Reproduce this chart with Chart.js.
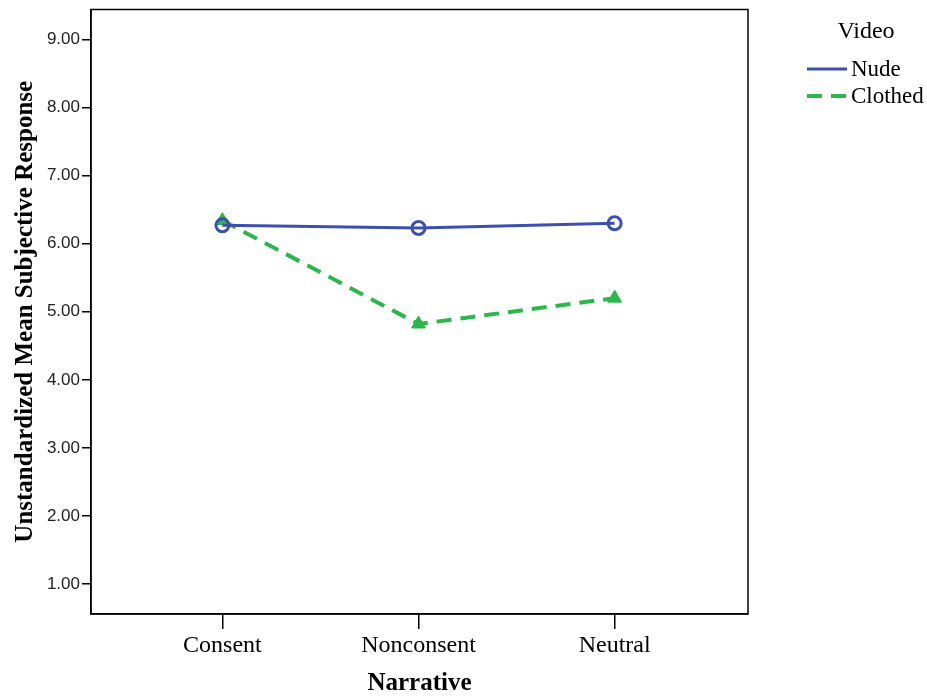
<!DOCTYPE html>
<html>
<head>
<meta charset="utf-8">
<script src="https://cdn.jsdelivr.net/npm/chart.js@4.4.1/dist/chart.umd.min.js"></script>
<style>
    body { margin: 0; background: #fff; }
    canvas { display: block; }
</style>
</head>
<body>
<canvas id="grafico" width="927" height="698"></canvas>
<script>
// Dati
const categorie = ['Consent', 'Nonconsent', 'Neutral'];
const valoriNude = [6.27, 6.23, 6.30];
const valoriClothed = [6.34, 4.82, 5.20];
const tickY = [1, 2, 3, 4, 5, 6, 7, 8, 9];

const blu = '#3d50ad';
const verde = '#2cb64b';
const serif = "'Liberation Serif', 'Times New Roman', serif";
const sans = "'Liberation Sans', Arial, sans-serif";

// Cornice completa attorno all'area del grafico
const cornice = {
    id: 'cornice',
    afterDraw(chart) {
        const { ctx, chartArea } = chart;
        ctx.save();
        ctx.strokeStyle = '#000';
        ctx.lineWidth = 1.5;
        ctx.strokeRect(chartArea.left, chartArea.top, chartArea.right - chartArea.left, chartArea.bottom - chartArea.top);
        ctx.restore();
    }
};

// Legenda disegnata a destra, stile SPSS
const legenda = {
    id: 'legenda',
    afterDraw(chart) {
        const ctx = chart.ctx;
        ctx.save();
        ctx.fillStyle = '#000';
        ctx.textBaseline = 'middle';
        ctx.font = '24px ' + serif;
        ctx.textAlign = 'center';
        ctx.fillText('Video', 866, 32);
        ctx.textAlign = 'left';
        ctx.font = '23px ' + serif;
        chart.data.datasets.forEach((ds, i) => {
            const y = 69 + i * 27;
            ctx.beginPath();
            ctx.strokeStyle = ds.borderColor;
            ctx.lineWidth = ds.borderWidth;
            ctx.setLineDash(ds.borderDash || []);
            ctx.moveTo(807, y);
            ctx.lineTo(847, y);
            ctx.stroke();
            ctx.setLineDash([]);
            ctx.fillText(ds.label, 851, y + 1);
        });
        ctx.restore();
    }
};

const ctx = document.getElementById('grafico').getContext('2d');
new Chart(ctx, {
    type: 'line',
    data: {
        datasets: [{
            label: 'Nude',
            data: valoriNude.map((v, i) => ({ x: i, y: v })),
            borderColor: blu,
            borderWidth: 3,
            pointStyle: 'circle',
            pointRadius: 6.5,
            pointBorderWidth: 3,
            pointBackgroundColor: 'rgba(0,0,0,0)',
            pointBorderColor: blu,
            tension: 0
        }, {
            label: 'Clothed',
            data: valoriClothed.map((v, i) => ({ x: i, y: v })),
            borderColor: verde,
            borderWidth: 4,
            borderDash: [15, 9],
            pointStyle: 'triangle',
            pointRadius: 8,
            pointBorderWidth: 1,
            pointBackgroundColor: verde,
            pointBorderColor: verde,
            tension: 0
        }]
    },
    options: {
        responsive: false,
        animation: false,
        layout: { padding: { top: 8, right: 179, left: 0, bottom: 0 } },
        plugins: {
            legend: { display: false },
            tooltip: { enabled: false }
        },
        scales: {
            x: {
                type: 'linear',
                min: -0.67,
                max: 2.68,
                afterBuildTicks: axis => { axis.ticks = categorie.map((_, i) => ({ value: i })); },
                afterFit: axis => { axis.height = 84; axis.paddingLeft = 0; axis.paddingRight = 0; },
                ticks: {
                    callback: v => categorie[v],
                    color: '#000',
                    font: { family: serif, size: 24 },
                    padding: 2,
                    maxRotation: 0
                },
                grid: { drawOnChartArea: false, drawTicks: true, tickLength: 15, color: '#000', lineWidth: 1.5 },
                border: { display: true, color: '#000', width: 1.5 },
                title: {
                    display: true,
                    text: 'Narrative',
                    color: '#000',
                    font: { family: serif, size: 25, weight: 'bold', lineHeight: 1 },
                    padding: { top: 0, bottom: 2 }
                }
            },
            y: {
                min: 0.56,
                max: 9.44,
                afterBuildTicks: axis => { axis.ticks = tickY.map(v => ({ value: v })); },
                afterFit: axis => { axis.width = 91; axis.paddingTop = 0; axis.paddingBottom = 0; },
                ticks: {
                    callback: v => v.toFixed(2),
                    color: '#222',
                    font: { family: sans, size: 17 },
                    padding: 2
                },
                grid: { drawOnChartArea: false, drawTicks: true, tickLength: 9, color: '#000', lineWidth: 1.5 },
                border: { display: true, color: '#000', width: 1.5 },
                title: {
                    display: true,
                    text: 'Unstandardized Mean Subjective Response',
                    color: '#000',
                    font: { family: serif, size: 25, weight: 'bold', lineHeight: 1 },
                    padding: { top: 13, bottom: 0 }
                }
            }
        }
    },
    plugins: [cornice, legenda]
});
</script>
</body>
</html>
